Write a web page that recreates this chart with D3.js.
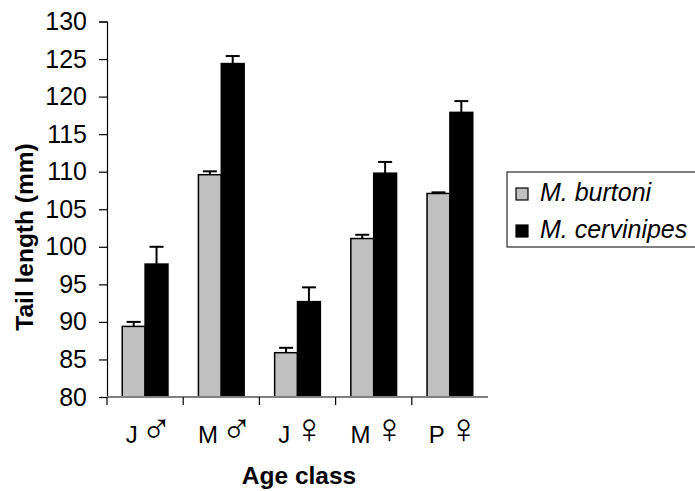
<!DOCTYPE html>
<html>
<head>
<meta charset="utf-8">
<script src="https://cdn.jsdelivr.net/npm/d3@7"></script>
<style>
  body { margin: 0; background: #fff; }
  text { font-family: Arial, "Liberation Sans", sans-serif; }
</style>
</head>
<body>
<div id="chart"></div>
<script>
var categories = ["J", "M", "J", "M", "P"];
var sexSymbols = ["\u2642", "\u2642", "\u2640", "\u2640", "\u2640"];
var categoryKeys = ["J\u2642", "M\u2642", "J\u2640", "M\u2640", "P\u2640"];
var seriesNames = ["M. burtoni", "M. cervinipes"];
var burtoni = [89.4, 109.6, 85.9, 101.1, 107.1];
var burtoniErr = [0.6, 0.45, 0.65, 0.5, 0.15];
var cervinipes = [97.7, 124.4, 92.7, 109.8, 117.9];
var cervinipesErr = [2.3, 1.0, 1.9, 1.5, 1.5];
var yTicks = [80, 85, 90, 95, 100, 105, 110, 115, 120, 125, 130];

var svgWidth = 695, svgHeight = 491;
var margin = { top: 21.5, left: 107, right: 207, bottom: 94 };
var width = svgWidth - margin.left - margin.right;
var height = svgHeight - margin.top - margin.bottom;

var svg = d3.select("#chart").append("svg")
    .attr("width", svgWidth).attr("height", svgHeight);
var chartGroup = svg.append("g")
    .attr("transform", `translate(${margin.left}, ${margin.top})`);

var xScale = d3.scaleBand().domain(categoryKeys).range([0, width]).padding(0);
var xSub = d3.scaleBand().domain(seriesNames)
    .range([xScale.bandwidth() * 0.2, xScale.bandwidth() * 0.8]);
var yScale = d3.scaleLinear().domain([80, 130]).range([height, 0]);
var colors = ["#c0c0c0", "#000000"];

var data = categoryKeys.map((c, i) => ({
    key: c,
    vals: [
        { s: seriesNames[0], v: burtoni[i], e: burtoniErr[i] },
        { s: seriesNames[1], v: cervinipes[i], e: cervinipesErr[i] }
    ]
}));

// y axis
var leftAxis = d3.axisLeft(yScale).tickValues(yTicks).tickSize(8).tickPadding(12);
var gy = chartGroup.append("g").call(leftAxis);
gy.select(".domain").attr("stroke", "#000").attr("stroke-width", 1.2);
gy.selectAll(".tick line").attr("stroke", "#000").attr("stroke-width", 1.2);
gy.selectAll(".tick text").attr("font-size", 25).attr("fill", "#000")
    .attr("font-family", "Arial, 'Liberation Sans', sans-serif");

// groups
var groups = chartGroup.selectAll(".grp").data(data).enter().append("g")
    .attr("class", "grp").attr("transform", d => `translate(${xScale(d.key)},0)`);

// error bars (upward only)
groups.selectAll(".err").data(d => d.vals).enter().append("g").each(function (d) {
    var g = d3.select(this);
    var cx = xSub(d.s) + xSub.bandwidth() / 2;
    g.append("line").attr("x1", cx).attr("x2", cx)
        .attr("y1", yScale(d.v)).attr("y2", yScale(d.v + d.e))
        .attr("stroke", "#000").attr("stroke-width", 2);
    g.append("line").attr("x1", cx - 7).attr("x2", cx + 7)
        .attr("y1", yScale(d.v + d.e)).attr("y2", yScale(d.v + d.e))
        .attr("stroke", "#000").attr("stroke-width", 2);
});

groups.selectAll("rect").data(d => d.vals).enter().append("rect")
    .attr("x", d => xSub(d.s)).attr("width", xSub.bandwidth())
    .attr("y", d => yScale(d.v)).attr("height", d => height - yScale(d.v))
    .attr("fill", (d, i) => colors[i]).attr("stroke", "#000").attr("stroke-width", 1.5);

// x axis
var gx = chartGroup.append("g").attr("transform", `translate(0, ${height})`);
gx.append("line").attr("x1", 0).attr("x2", width).attr("y1", 0).attr("y2", 0)
    .attr("stroke", "#808080").attr("stroke-width", 2);
gx.selectAll(".xt").data(categoryKeys).enter().append("line")
    .attr("x1", d => xScale(d)).attr("x2", d => xScale(d))
    .attr("y1", 0).attr("y2", 8).attr("stroke", "#000").attr("stroke-width", 1.2);
var xl = gx.selectAll(".xl").data(categoryKeys).enter().append("text")
    .attr("x", d => xScale(d) + xScale.bandwidth() / 2 + 4).attr("y", 45.5)
    .attr("text-anchor", "middle").attr("font-size", 24).attr("fill", "#000");
xl.append("tspan").text((d, i) => categories[i]);
xl.append("tspan")
    .attr("font-family", "'DejaVu Sans ExtraLight', 'DejaVu Sans Light', 'DejaVu Sans', sans-serif")
    .attr("font-weight", 200).attr("dx", 3)
    .attr("font-size", 42).text((d, i) => sexSymbols[i] + "\uFE0E");

// axis titles
svg.append("text")
    .attr("x", 299).attr("y", 484)
    .attr("text-anchor", "middle").attr("font-size", 24.5).attr("font-weight", "bold")
    .text("Age class");
svg.append("text")
    .attr("transform", "translate(33, 237) rotate(-90)")
    .attr("text-anchor", "middle").attr("font-size", 24.5).attr("font-weight", "bold")
    .text("Tail length (mm)");

// legend
var legend = svg.append("g").attr("transform", "translate(507, 172)");
legend.append("rect").attr("x", 0).attr("y", 0).attr("width", 200).attr("height", 75)
    .attr("fill", "#fff").attr("stroke", "#000").attr("stroke-width", 1);
seriesNames.forEach((s, i) => {
    legend.append("rect").attr("x", 9).attr("y", 16 + i * 37)
        .attr("width", 12).attr("height", 12)
        .attr("fill", colors[i]).attr("stroke", "#000").attr("stroke-width", 1.2);
    legend.append("text").attr("x", 33).attr("y", 29 + i * 37)
        .attr("font-size", 25).attr("font-style", "italic").text(s);
});
</script>
</body>
</html>
